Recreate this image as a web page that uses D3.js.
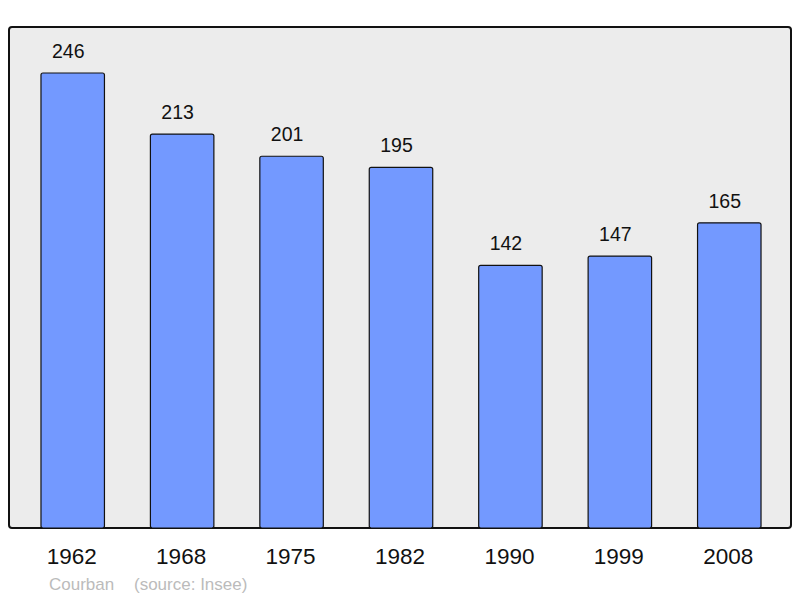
<!DOCTYPE html>
<html><head><meta charset="utf-8">
<script src="https://cdn.jsdelivr.net/npm/d3@7"></script>
<style>body{margin:0;background:#fff}svg{display:block;font-family:"Liberation Sans",Arial,sans-serif}</style>
</head><body><svg id="c" width="800" height="598"></svg>
<script>
const years = ["1962","1968","1975","1982","1990","1999","2008"];
const population = [246,213,201,195,142,147,165];
const sourceLabel = "Courban";
const sourceNote = "(source: Insee)";

const svg = d3.select("#c");
svg.append("rect").attr("x",9).attr("y",27).attr("width",782).attr("height",501)
  .attr("rx",3).attr("fill","#ececec").attr("stroke","#111").attr("stroke-width",2);

const x = d3.scaleBand().domain(years).range([18,784]).paddingInner(0.42).paddingOuter(0.21);
const y = d3.scaleLinear().domain([0,246]).range([528,73]);

svg.selectAll(".bar").data(years).join("rect")
  .attr("x",d=>x(d)).attr("width",x.bandwidth())
  .attr("y",(d,i)=>y(population[i])).attr("height",(d,i)=>y(0)-y(population[i]))
  .attr("rx",2).attr("fill","#7399ff").attr("stroke","#111").attr("stroke-width",1.2);

svg.selectAll(".val").data(years).join("text")
  .attr("x",d=>x(d)+x.bandwidth()/2-4.5).attr("y",(d,i)=>y(population[i])-15)
  .attr("text-anchor","middle").attr("font-size",19.5).attr("fill","#111")
  .text((d,i)=>population[i]);

svg.selectAll(".yr").data(years).join("text")
  .attr("x",d=>x(d)+x.bandwidth()/2-1).attr("y",564)
  .attr("text-anchor","middle").attr("font-size",22.5).attr("fill","#111")
  .text(d=>d);

svg.append("text").attr("x",49).attr("y",590).attr("font-size",17).attr("fill","#bbb").text(sourceLabel);
svg.append("text").attr("x",134).attr("y",590).attr("font-size",17).attr("fill","#bbb").text(sourceNote);
</script></body></html>
